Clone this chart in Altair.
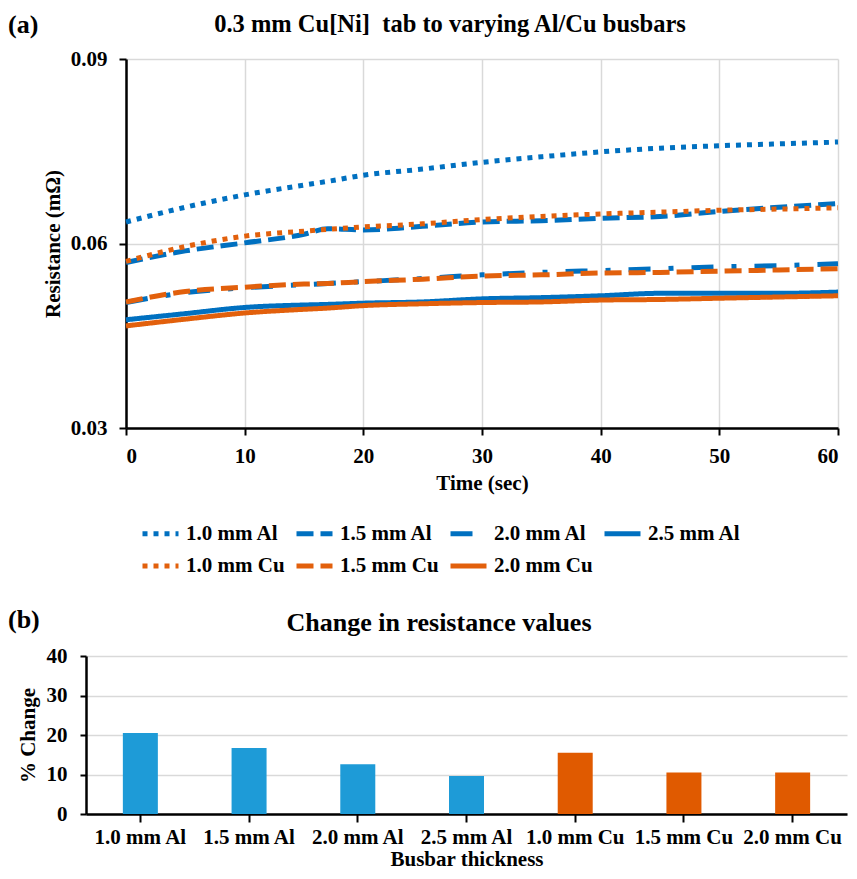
import altair as alt
import pandas as pd

FONT = "Liberation Serif"

# ---------------- data ----------------
time_s = [0, 5, 10, 15, 17, 20, 25, 30, 35, 40, 45, 50, 55, 60]

r_10_al = [0.0635, 0.0659, 0.0679, 0.0695, 0.0701, 0.0711, 0.0721, 0.0732, 0.0741, 0.0749, 0.0755, 0.0759, 0.0762, 0.0765]
r_15_al = [0.0569, 0.0588, 0.0601, 0.0615, 0.0624, 0.0622, 0.0628, 0.0635, 0.0637, 0.0641, 0.0644, 0.0652, 0.0659, 0.0665]
r_20_al = [0.0504, 0.0520, 0.0528, 0.0533, 0.0535, 0.0538, 0.0543, 0.0549, 0.0553, 0.0556, 0.0559, 0.0562, 0.0564, 0.0567]
r_25_al = [0.0476, 0.0486, 0.0496, 0.0500, 0.0501, 0.0503, 0.0505, 0.0510, 0.0512, 0.0515, 0.0519, 0.0519, 0.0519, 0.0521]
r_10_cu = [0.0571, 0.0595, 0.0612, 0.0620, 0.0623, 0.0627, 0.0632, 0.0639, 0.0644, 0.0648, 0.0651, 0.0654, 0.0656, 0.0658]
r_15_cu = [0.0505, 0.0522, 0.0529, 0.0534, 0.0535, 0.0538, 0.0542, 0.0547, 0.0549, 0.0552, 0.0553, 0.0555, 0.0557, 0.0559]
r_20_cu = [0.0466, 0.0477, 0.0487, 0.0493, 0.0495, 0.0499, 0.0502, 0.0504, 0.0505, 0.0508, 0.0509, 0.0511, 0.0513, 0.0515]

series_names = ["1.0 mm Al", "1.5 mm Al", "2.0 mm Al", "2.5 mm Al",
                "1.0 mm Cu", "1.5 mm Cu", "2.0 mm Cu"]
series_values = [r_10_al, r_15_al, r_20_al, r_25_al, r_10_cu, r_15_cu, r_20_cu]

bar_labels = ["1.0 mm Al", "1.5 mm Al", "2.0 mm Al", "2.5 mm Al",
              "1.0 mm Cu", "1.5 mm Cu", "2.0 mm Cu"]
bar_values = [20.5, 16.7, 12.6, 9.6, 15.5, 10.5, 10.5]

# ---------------- styles ----------------
BLUE = "#0070C0"
ORANGE = "#E2600C"
line_colors = [BLUE, BLUE, BLUE, BLUE, ORANGE, ORANGE, ORANGE]
line_dashes = [[5, 6], [17, 7], [22, 18, 5, 18], [1, 0],
               [5, 6], [17, 7], [1, 0]]
bar_colors = ["#1E9BD7"] * 4 + ["#E05A00"] * 3

rows = []
for name, vals in zip(series_names, series_values):
    for t, v in zip(time_s, vals):
        rows.append({"series": name, "time": t, "r": v})
df_lines = pd.DataFrame(rows)
df_bars = pd.DataFrame({"busbar": bar_labels, "pct": bar_values})

axis_common = dict(
    domainColor="black", domainWidth=2.5,
    tickColor="black", tickWidth=2,
    labelFont=FONT, labelFontSize=21, labelFontWeight="bold", labelColor="black",
    titleFont=FONT, titleFontSize=21, titleFontWeight="bold", titleColor="black",
    gridColor="#D9D9D9", gridWidth=1.5,
)

# Both panels share a plot origin; the top panel's time axis starts 40px
# further right, so its y axis is moved inwards by the same amount.
SHIFT = 40
TOP_RIGHT = 752

legend = alt.Legend(
    title=None, orient="none", legendX=54, legendY=454, direction="horizontal",
    columns=4, gridAlign="all", symbolType="stroke", symbolSize=1296,
    symbolStrokeWidth=5, labelFont=FONT, labelFontSize=21,
    labelFontWeight="bold", labelColor="black", labelLimit=300,
    columnPadding=1, rowPadding=1.5, labelOffset=5, padding=0,
)

lines = alt.Chart(df_lines).mark_line(
    strokeWidth=5, interpolate="monotone"
).encode(
    x=alt.X("time:Q", scale=alt.Scale(domain=[0, 60], nice=False, range=[SHIFT, TOP_RIGHT]),
            axis=alt.Axis(values=[0, 10, 20, 30, 40, 50, 60], title="Time (sec)",
                          tickSize=7, labelPadding=10, titlePadding=6, **axis_common)),
    y=alt.Y("r:Q", scale=alt.Scale(domain=[0.03, 0.09], nice=False, zero=False),
            axis=alt.Axis(values=[0.03, 0.06, 0.09], format=".2f",
                          title="Resistance (mΩ)", tickSize=7, labelPadding=12,
                          titlePadding=7, offset=-SHIFT, **axis_common)),
    color=alt.Color("series:N", scale=alt.Scale(domain=series_names, range=line_colors),
                    legend=legend),
    strokeDash=alt.StrokeDash("series:N",
                              scale=alt.Scale(domain=series_names, range=line_dashes),
                              legend=legend),
)

label_a = alt.Chart(pd.DataFrame({"t": ["(a)"]})).mark_text(
    align="left", baseline="alphabetic", font=FONT, fontSize=26,
    fontWeight="bold", color="black"
).encode(text="t:N", x=alt.value(-78), y=alt.value(-26))

title_a = alt.Chart(pd.DataFrame({"t": ["0.3 mm Cu[Ni]\u00a0 tab to varying Al/Cu busbars"]})).mark_text(
    align="center", baseline="alphabetic", font=FONT, fontSize=24.5,
    fontWeight="bold", color="black"
).encode(text="t:N", x=alt.value(364), y=alt.value(-27))

top = alt.layer(lines, label_a, title_a).properties(width=TOP_RIGHT, height=369)

bars = alt.Chart(df_bars).mark_bar(size=35).encode(
    x=alt.X("busbar:N", sort=bar_labels,
            scale=alt.Scale(paddingInner=0, paddingOuter=0),
            axis=alt.Axis(title="Busbar thickness", labelAngle=0, tickSize=8,
                          labelPadding=4, titlePadding=1, grid=False, **axis_common)),
    y=alt.Y("pct:Q", scale=alt.Scale(domain=[0, 40], nice=False),
            axis=alt.Axis(values=[0, 10, 20, 30, 40], title="% Change", tickSize=6,
                          labelPadding=13, titlePadding=8, **axis_common)),
    color=alt.Color("busbar:N", scale=alt.Scale(domain=bar_labels, range=bar_colors),
                    legend=None),
)

label_b = alt.Chart(pd.DataFrame({"t": ["(b)"]})).mark_text(
    align="left", baseline="alphabetic", font=FONT, fontSize=26,
    fontWeight="bold", color="black"
).encode(text="t:N", x=alt.value(-78), y=alt.value(-28))

title_b = alt.Chart(pd.DataFrame({"t": ["Change in resistance values"]})).mark_text(
    align="center", baseline="alphabetic", font=FONT, fontSize=26,
    fontWeight="bold", color="black"
).encode(text="t:N", x=alt.value(353), y=alt.value(-25))

bottom = alt.layer(bars, label_b, title_b).properties(width=761, height=158)

chart = alt.vconcat(alt.hconcat(top), alt.hconcat(bottom), spacing=31).resolve_scale(
    color="independent", strokeDash="independent"
).properties(
    padding={"left": 0, "top": 4, "right": 0, "bottom": 0},
    background="white",
).configure_view(stroke=None)

chart.save("out.html", embed_options={"renderer": "svg", "actions": False})
